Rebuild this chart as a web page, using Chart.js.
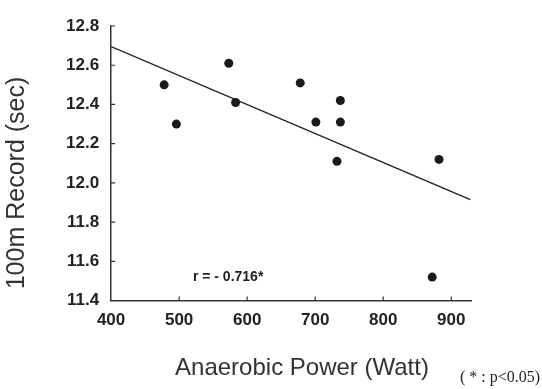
<!DOCTYPE html>
<html>
<head>
<meta charset="utf-8">
<script src="https://cdn.jsdelivr.net/npm/chart.js@4.4.0/dist/chart.umd.min.js"></script>
<style>
  html, body { margin: 0; padding: 0; background: #fff; }
  #wrap { width: 542px; height: 389px; position: relative; }
</style>
</head>
<body>
<div id="wrap"><canvas id="chart"></canvas></div>
<script>
// anaerobic power (W) vs 100m record (s)
const powerWatt = [478, 496, 573, 583, 678, 701, 737, 737, 732, 882, 872];
const record100m = [12.50, 12.30, 12.61, 12.41, 12.51, 12.31, 12.42, 12.31, 12.11, 12.12, 11.52];

// regression line ends
const fitX = [400, 928];
const fitY = [12.695, 11.915];

const xTicks = [400, 500, 600, 700, 800, 900];
const yTicks = [11.4, 11.6, 11.8, 12.0, 12.2, 12.4, 12.6, 12.8];

const xTitle = 'Anaerobic Power (Watt)';
const yTitle = '100m Record (sec)';
const rLabel = 'r = - 0.716*';
const noteLabel = '( * : p<0.05)';

const FONT = '"Liberation Sans", Arial, sans-serif';

// ticks point into the plot in the original; titles sit off-centre, so draw them here
const extras = {
    id: 'extras',
    afterDraw(chart) {
        const { ctx, chartArea: a, scales: { x, y } } = chart;
        ctx.save();
        ctx.strokeStyle = '#333';
        ctx.lineWidth = 1.2;
        ctx.beginPath();
        xTicks.slice(1).forEach(v => {
            const px = x.getPixelForValue(v);
            ctx.moveTo(px, a.bottom);
            ctx.lineTo(px, a.bottom - 4);
        });
        yTicks.slice(1).forEach(v => {
            const py = y.getPixelForValue(v);
            ctx.moveTo(a.left, py);
            ctx.lineTo(a.left + 4, py);
        });
        ctx.stroke();

        ctx.fillStyle = '#222';
        ctx.font = 'bold 14px ' + FONT;
        ctx.textAlign = 'center';
        ctx.textBaseline = 'middle';
        ctx.fillText(rLabel, x.getPixelForValue(572), y.getPixelForValue(11.52));

        ctx.fillStyle = '#333';
        ctx.font = '24px ' + FONT;
        ctx.fillText(xTitle, 302, 368);

        ctx.save();
        ctx.translate(17, 183);
        ctx.rotate(-Math.PI / 2);
        ctx.font = '25px ' + FONT;
        ctx.fillText(yTitle, 0, 0);
        ctx.restore();

        ctx.fillStyle = '#222';
        ctx.font = '16px "Liberation Serif", "Times New Roman", serif';
        ctx.textAlign = 'right';
        ctx.textBaseline = 'alphabetic';
        ctx.fillText(noteLabel, chart.width - 2, 382);
        ctx.restore();
    }
};

const ctx = document.getElementById('chart').getContext('2d');
new Chart(ctx, {
    type: 'scatter',
    data: {
        datasets: [
            {
                label: 'athletes',
                data: powerWatt.map((p, i) => ({ x: p, y: record100m[i] })),
                backgroundColor: '#1a1a1a',
                borderColor: '#1a1a1a',
                pointRadius: 4.5,
                pointBorderWidth: 0
            },
            {
                type: 'line',
                label: 'fit',
                data: fitX.map((p, i) => ({ x: p, y: fitY[i] })),
                borderColor: '#222',
                borderWidth: 1.5,
                pointRadius: 0,
                fill: false
            }
        ]
    },
    options: {
        responsive: true,
        maintainAspectRatio: false,
        animation: false,
        layout: {
            padding: { left: 62, top: 26, right: 71, bottom: 56 }
        },
        plugins: {
            legend: { display: false },
            tooltip: { enabled: false }
        },
        scales: {
            x: {
                type: 'linear',
                min: 400,
                max: 929,
                afterBuildTicks: scale => {
                    scale.ticks = xTicks.map(v => ({ value: v }));
                },
                grid: { display: false },
                border: { display: true, color: '#333', width: 1.5 },
                ticks: {
                    padding: 2,
                    color: '#222',
                    font: { family: FONT, size: 17, weight: 'bold' }
                }
            },
            y: {
                type: 'linear',
                min: 11.4,
                max: 12.8,
                afterBuildTicks: scale => {
                    scale.ticks = yTicks.map(v => ({ value: v }));
                },
                grid: { display: false },
                border: { display: true, color: '#333', width: 1.5 },
                ticks: {
                    padding: 4,
                    color: '#222',
                    font: { family: FONT, size: 17, weight: 'bold' },
                    callback: v => v.toFixed(1)
                }
            }
        }
    },
    plugins: [extras]
});
</script>
</body>
</html>
